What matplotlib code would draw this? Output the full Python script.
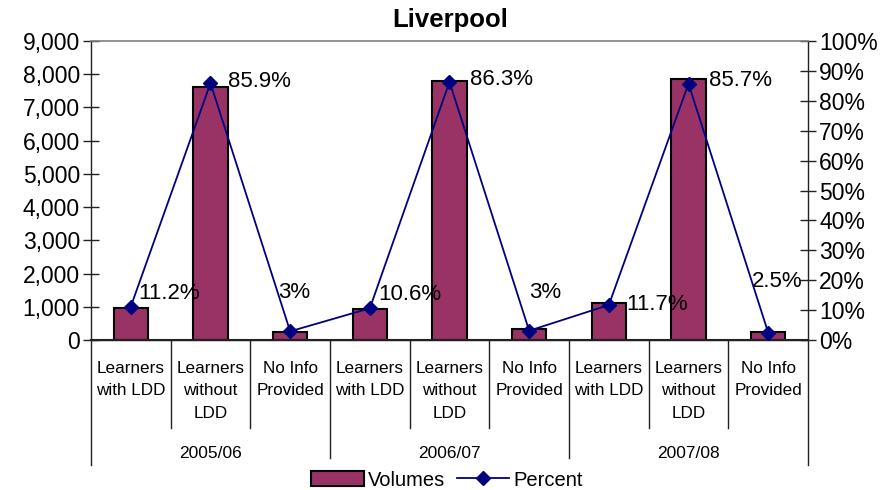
import matplotlib
matplotlib.use("Agg")
import matplotlib.pyplot as plt
import matplotlib.transforms as mtransforms
from matplotlib.lines import Line2D
from matplotlib.patches import Patch

title = "Liverpool"
categories = ["Learners\nwith LDD", "Learners\nwithout\nLDD", "No Info\nProvided"] * 3
years = ["2005/06", "2006/07", "2007/08"]
volumes = [960, 7620, 250, 940, 7800, 320, 1100, 7860, 240]
percent = [11.2, 85.9, 2.9, 10.6, 86.3, 3.1, 11.7, 85.7, 2.5]
pct_labels = ["11.2%", "85.9%", "3%", "10.6%", "86.3%", "3%", "11.7%", "85.7%", "2.5%"]
left_ticks = list(range(0, 9001, 1000))
right_ticks = list(range(0, 101, 10))

# label offsets in pixels (dx to left edge, dy to center), style only
label_offsets = [(7, 13), (18, 2), (-12, 39), (8, 14), (21, 2), (0, 38), (17, 1), (20, 3), (-16, 51)]

plt.rcParams['font.family'] = ['Liberation Sans', 'DejaVu Sans']

W, H = 886, 490
fig = plt.figure(figsize=(W / 100, H / 100), dpi=100)
x0, x1, y0, y1 = 91, 808, 340, 41
ax = fig.add_axes([x0 / W, 1 - y0 / H, (x1 - x0) / W, (y0 - y1) / H])
ax2 = ax.twinx()

xs = list(range(len(volumes)))
ax.bar(xs, volumes, width=0.43, color="#993366", edgecolor="black", linewidth=1.5, zorder=2)
ax.set_xlim(-0.5, len(volumes) - 0.5)
ax.set_ylim(0, 9000)
ax.set_yticks(left_ticks)
ax.set_yticklabels([f"{v:,}" for v in left_ticks])
ax.set_xticks([])

ax2.plot(xs, percent, color="#000080", linewidth=1.3, marker="D", markersize=7, zorder=3)
ax2.set_ylim(0, 100)
ax2.set_yticks(right_ticks)
ax2.set_yticklabels([f"{v}%" for v in right_ticks])

for a in (ax, ax2):
    a.spines['top'].set_visible(False)
    for s in ('left', 'right', 'bottom'):
        a.spines[s].set_linewidth(1.0)
        a.spines[s].set_color('#222222')
    a.tick_params(axis='y', direction='inout', length=12, width=1.0, labelsize=16.5, pad=2, color='#222222')
ax2.spines['left'].set_visible(False)
ax.spines['right'].set_visible(False)
ax.spines['bottom'].set_linewidth(1.5)
ax2.spines['top'].set_visible(True)
ax2.spines['top'].set_color('#808080')
ax2.spines['top'].set_linewidth(1.2)

# data labels
for i, (x, p, lab) in enumerate(zip(xs, percent, pct_labels)):
    dx, dy = label_offsets[i]
    ax2.annotate(lab, (x, p), xytext=(dx * 0.72, dy * 0.72), textcoords='offset points',
                 ha='left', va='center', fontsize=16, zorder=4)

# category axis separators and labels
trans = mtransforms.blended_transform_factory(ax.transData, ax.transAxes)
axh = y0 - y1
def ay(py):
    return (y0 - py) / axh
for b in range(len(volumes) + 1):
    xb = b - 0.5
    if b == 0 or b == len(volumes):
        yb = ay(465)
    elif b % 3 == 0:
        yb = ay(458)
    else:
        yb = ay(428)
    ax.plot([xb, xb], [0, yb], transform=trans, color='#222222', lw=1.0, clip_on=False)

for x, c in zip(xs, categories):
    ax.text(x, ay(361), c, transform=trans, ha='center', va='top', fontsize=12.3,
            linespacing=1.62)
for g, yr in enumerate(years):
    ax.text(g * 3 + 1, ay(454), yr, transform=trans, ha='center', va='center', fontsize=12.5)

fig.text(450 / W, 1 - 20 / H, title, ha='center', va='center', fontsize=18.5, fontweight='bold')

handles = [Patch(facecolor="#993366", edgecolor="black", linewidth=1.5),
           Line2D([0], [0], color="#000080", lw=1.3, marker="D", markersize=7)]
fig.legend(handles, ["Volumes", "Percent"], loc='center', bbox_to_anchor=(447 / W, 1 - 480 / H),
           ncol=2, frameon=False, prop={'size': 14.5},
           handlelength=2.6, handletextpad=0.2, columnspacing=0.6, borderpad=0.1)

fig.savefig("out.png", dpi=100)
